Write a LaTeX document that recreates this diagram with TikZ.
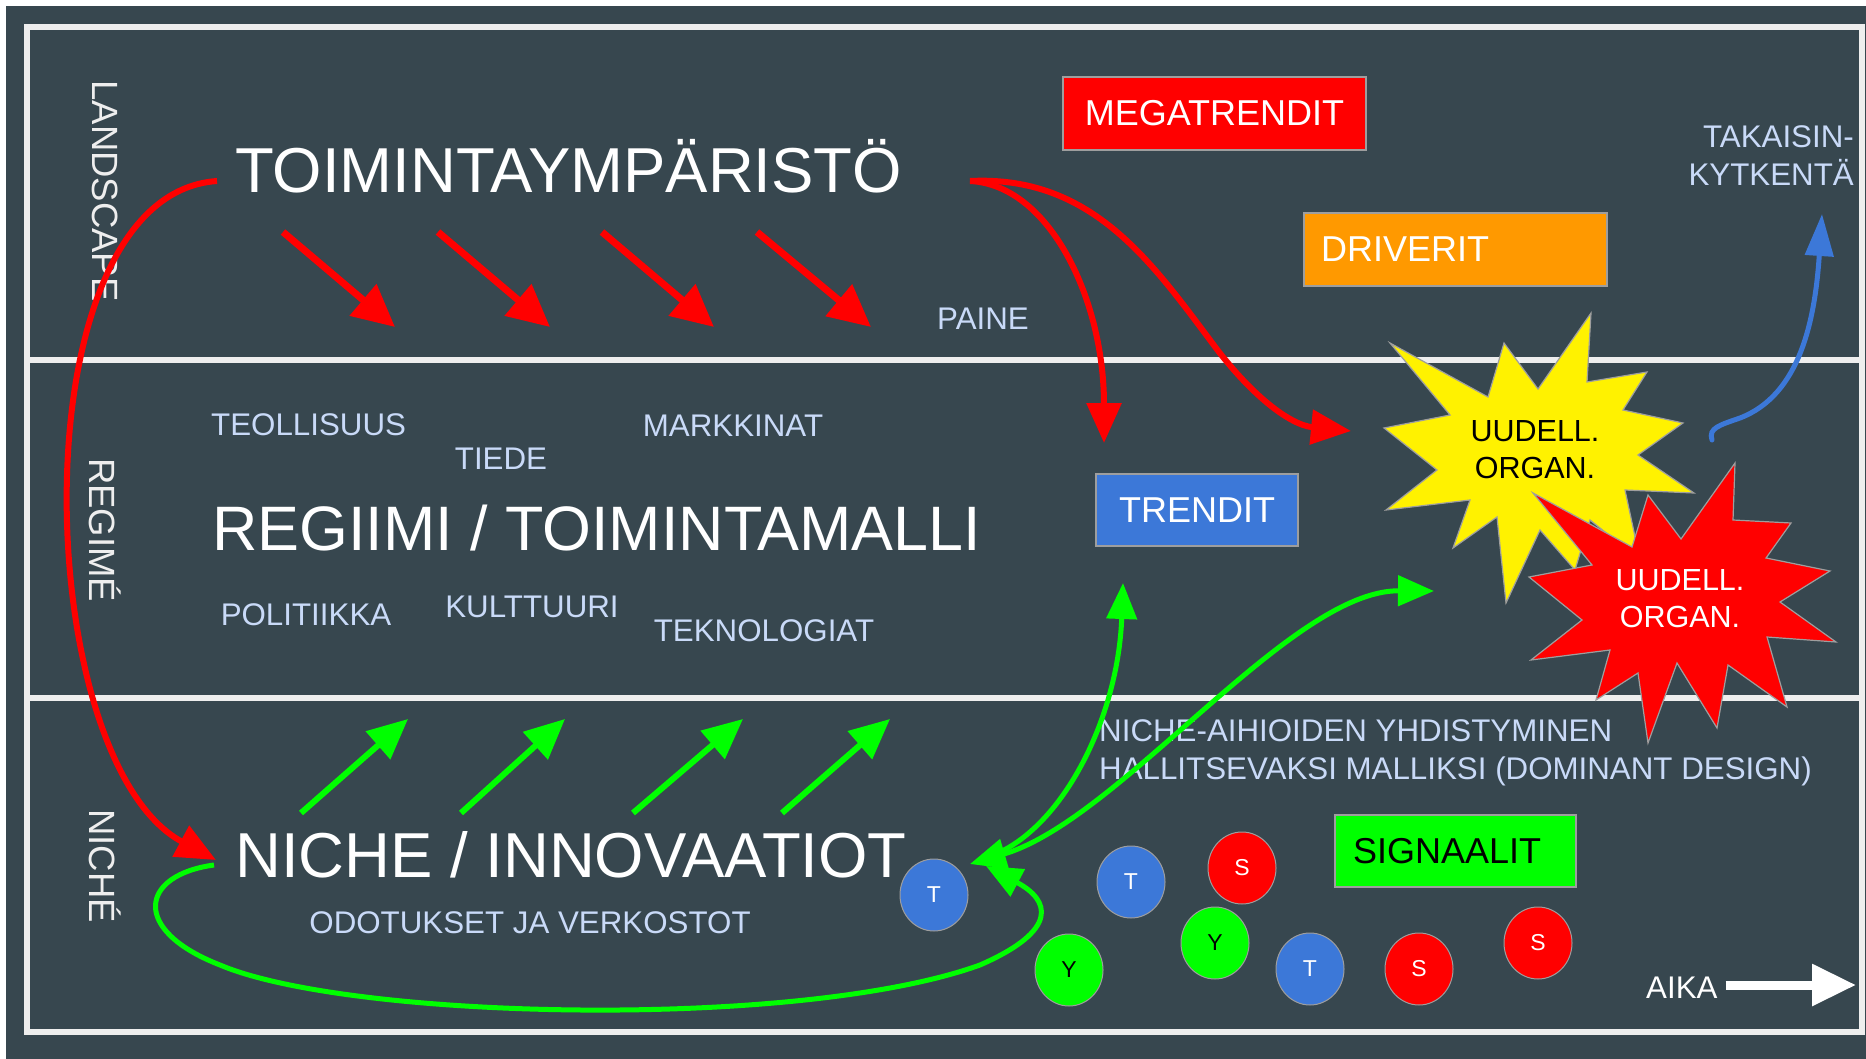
\documentclass[tikz,border=0pt]{standalone}
\usepackage{fontspec}
\setmainfont{Liberation Sans}
\usetikzlibrary{arrows.meta,shapes.geometric}
\definecolor{bg}{HTML}{37474F}
\definecolor{laneline}{HTML}{EEEEEE}
\definecolor{lbl}{HTML}{C9DAF8}
\definecolor{gred}{HTML}{FF0000}
\definecolor{gorange}{HTML}{FF9900}
\definecolor{gblue}{HTML}{3C78D8}
\definecolor{ggreen}{HTML}{00FF00}
\definecolor{edgegrey}{HTML}{9E9E9E}
\newcommand\fsz[1]{\fontsize{#1}{#1}\selectfont}
\begin{document}
\begin{tikzpicture}[x=1pt,y=-1pt,
  lane/.style={draw=laneline,line width=6pt},
  sidelabel/.style={text=laneline,rotate=-90,inner sep=0,font=\fsz{36.5}},
  bigtext/.style={text=white,inner sep=0,anchor=base west,font=\fsz{63.5}},
  smalltext/.style={text=lbl,inner sep=0,anchor=base,font=\fsz{31.3}},
  box/.style={draw=edgegrey,line width=1.2pt,inner sep=0,minimum height=73pt,font=\fsz{36}},
  token/.style={ellipse,draw=edgegrey,line width=1pt,minimum width=68pt,minimum height=72pt,inner sep=0,font=\fsz{23}},
  pressure/.style={gred,line width=7pt,-{Triangle[length=42pt,width=40pt]}},
  rise/.style={ggreen,line width=6pt,-{Triangle[length=40pt,width=36pt]}},
  redcurve/.style={gred,line width=6pt,-{Triangle[length=40pt,width=34pt]}},
  greencurve/.style={ggreen,line width=5pt,-{Triangle[length=36pt,width=30pt]}},
  starline/.style={draw=edgegrey,line width=1.2pt}
]
\useasboundingbox (0,0) rectangle (1866,1059);
\fill[white] (0,0) rectangle (1866,1059);
\fill[bg] (6,6) rectangle (1866,1059);
% lanes
\draw[lane] (27,27) rectangle (1862,360);
\draw[lane] (27,360) rectangle (1862,698);
\draw[lane] (27,698) rectangle (1862,1032);
% lane labels
\node[sidelabel] (landscape) at (105,191) {LANDSCAPE};
\node[sidelabel] (regime) at (105,530) {REGIMÉ};
\node[sidelabel] (nichelbl) at (105,866) {NICHÉ};
% main texts
\node[bigtext] (toim) at (235,193) {TOIMINTAYMPÄRISTÖ};
\node[bigtext,font=\fsz{62.8}] (regiimi) at (212,550) {REGIIMI / TOIMINTAMALLI};
\node[bigtext] (niche) at (235,877) {NICHE / INNOVAATIOT};
% small labels
\node[smalltext,anchor=base west] (teoll) at (211,435) {TEOLLISUUS};
\node[smalltext] (tiede) at (501,469) {TIEDE};
\node[smalltext] (markk) at (733,436) {MARKKINAT};
\node[smalltext] (polit) at (306,625) {POLITIIKKA};
\node[smalltext] (kultt) at (532,617) {KULTTUURI};
\node[smalltext] (tekno) at (764,641) {TEKNOLOGIAT};
\node[smalltext] (odot) at (530,933) {ODOTUKSET JA VERKOSTOT};
\node[smalltext] (paine) at (983,330) {PAINE};
\node[smalltext,anchor=base east] (tak1) at (1854,148) {TAKAISIN-};
\node[smalltext,anchor=base east] (tak2) at (1854,186) {KYTKENTÄ};
\node[smalltext,anchor=base west] (dd1) at (1099,741) {NICHE-AIHIOIDEN YHDISTYMINEN};
\node[smalltext,anchor=base west] (dd2) at (1099,779) {HALLITSEVAKSI MALLIKSI (DOMINANT DESIGN)};
% boxes
\node[box,fill=gred,text=white,minimum width=303pt] (mega) at (1214.5,113.5) {MEGATRENDIT};
\node[box,fill=gorange,text=white,text width=269pt,inner xsep=17pt,align=left] (driv) at (1455.5,249.5) {DRIVERIT};
\node[box,fill=gblue,text=white,minimum width=202pt,minimum height=72pt] (trend) at (1197,510) {TRENDIT};
\node[box,fill=ggreen,text=black,text width=205pt,inner xsep=18pt,align=left,minimum height=72pt] (sign) at (1455.5,851) {SIGNAALIT};
% stars
\filldraw[starline,fill=yellow]
  (1390,343) -- (1488,397) -- (1504,343) -- (1538,389) -- (1591,313) -- (1587,382)
  -- (1647,372) -- (1623,410) -- (1683,423) -- (1638,455) -- (1694,493) -- (1625,490)
  -- (1640,560) -- (1590,520) -- (1575,570) -- (1540,530) -- (1506,603) -- (1497,517)
  -- (1453,548) -- (1470,500) -- (1386,510) -- (1437,470) -- (1384,428) -- (1450,415) -- cycle;
\node[align=center,inner sep=0,font=\fontsize{30.5}{37}\selectfont,text=black] (star1) at (1535,450) {UUDELL.\\ORGAN.};
\filldraw[starline,fill=gred]
  (1533,493) -- (1632,547) -- (1648,495) -- (1681,539) -- (1735,463) -- (1733,520)
  -- (1791,523) -- (1766,558) -- (1830,571) -- (1780,602) -- (1836,642) -- (1767,637)
  -- (1787,707) -- (1728,665) -- (1717,728) -- (1677,663) -- (1648,743) -- (1638,673)
  -- (1596,700) -- (1610,650) -- (1531,660) -- (1582,620) -- (1529,577) -- (1592,565) -- cycle;
\node[align=center,inner sep=0,font=\fontsize{30.5}{37}\selectfont,text=white] (star2) at (1680,599) {UUDELL.\\ORGAN.};
% tokens
\node[token,fill=gblue,text=white] (t1) at (934,895) {T};
\node[token,fill=gblue,text=white] (t2) at (1131,882) {T};
\node[token,fill=gred,text=white] (s1) at (1242,868) {S};
\node[token,fill=ggreen,text=black] (y1) at (1215,943) {Y};
\node[token,fill=ggreen,text=black] (y2) at (1069,970) {Y};
\node[token,fill=gblue,text=white] (t3) at (1310,969) {T};
\node[token,fill=gred,text=white] (s2) at (1419,969) {S};
\node[token,fill=gred,text=white] (s3) at (1538,943) {S};
% AIKA
\node[smalltext,text=white,anchor=base west] (aika) at (1646,998) {AIKA};
\coordinate (aikaend) at (1856,985);
\draw[white,line width=9pt,-{Triangle[length=44pt,width=40pt]}] ([xshift=8pt]aika.east |- aikaend) -- (aikaend);
% pressure arrows
\draw[pressure] (283,232) -- (395,327);
\draw[pressure] (438,232) -- (550,327);
\draw[pressure] (602,232) -- (714,327);
\draw[pressure] (757,232) -- (871,327);
% rising arrows
\draw[rise] (301,813) -- (408,719);
\draw[rise] (461,813) -- (565,719);
\draw[rise] (633,813) -- (743,719);
\draw[rise] (782,813) -- (890,719);
% red curves
\coordinate (toimL) at (217,181);
\coordinate (nicheL) at (216,860);
\coordinate (toimR) at (970,181);
\coordinate (trendTop) at (1104,443);
\coordinate (starIn) at (1351,431);
\draw[redcurve] (toimL) .. controls (15,195) and (30,760) .. (nicheL);
\draw[redcurve] (toimR) .. controls (1050,185) and (1104,300) .. (trendTop);
\draw[redcurve] (toimR) .. controls (1090,175) and (1150,260) .. (1210,340)
   .. controls (1250,395) and (1290,425) .. (starIn);
% green curves
\coordinate (nicheA) at (970,864);
\coordinate (nicheB) at (985,858);
\coordinate (trendBot) at (1123,583);
\coordinate (starG) at (1434,591);
\coordinate (loopStart) at (214,865);
\coordinate (loopEnd) at (986,866);
\draw[greencurve] (nicheB) .. controls (1060,835) and (1118,720) .. (trendBot);
\draw[greencurve,{Triangle[length=36pt,width=30pt]}-{Triangle[length=36pt,width=30pt]}] (nicheA) .. controls (1120,820) and (1290,590) .. (starG);
\draw[greencurve] (loopStart) .. controls (140,875) and (130,930) .. (220,965)
   .. controls (350,1020) and (800,1030) .. (980,965)
   .. controls (1060,930) and (1050,900) .. (loopEnd);
% feedback arrow
\coordinate (fbStart) at (1712,440);
\coordinate (fbEnd) at (1822,214);
\draw[gblue,line width=5pt,line cap=round,-{Triangle[length=42pt,width=28pt]}] (fbStart) .. controls (1708,428) and (1720,425) .. (1740,418)
   .. controls (1800,395) and (1815,320) .. (fbEnd);
\end{tikzpicture}
\end{document}
